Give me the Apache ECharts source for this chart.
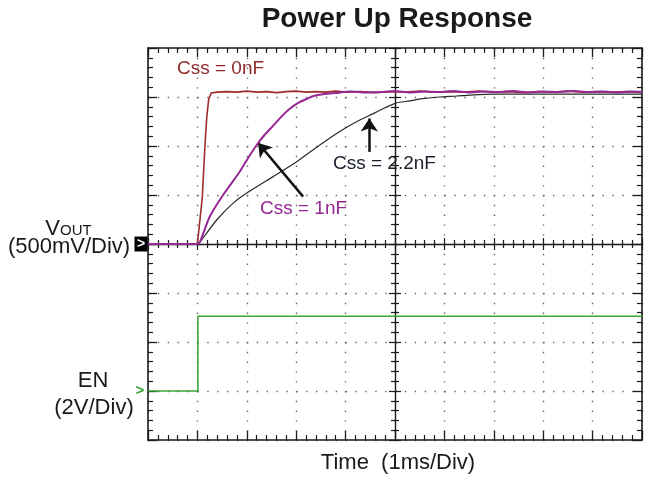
<!DOCTYPE html>
<html><head><meta charset="utf-8">
<script src="https://cdn.jsdelivr.net/npm/echarts@6/dist/echarts.min.js"></script>
<style>html,body{margin:0;padding:0;background:#fff}#c{width:646px;height:482px}</style>
</head><body><div id="c"></div>
<script>
// ---- data (time in ms, voltage in V) ----
const tCss0 = [0, 0.5, 1.0, 1.04, 1.10, 1.15, 1.19, 1.23, 1.28, 1.40, 1.60, 1.80, 2.00, 2.20, 2.40, 2.60, 2.80, 3.00, 3.20, 3.40, 3.60, 3.80, 4.00, 4.30, 4.60, 4.90, 5.20, 5.50, 5.80, 6.10, 6.40, 6.70, 7.00, 7.30, 7.60, 7.90, 8.20, 8.50, 8.80, 9.10, 9.40, 9.70, 10.0];
const vCss0 = [0, 0, 0, 0.01, 0.48, 0.98, 1.30, 1.48, 1.54, 1.55, 1.555, 1.55, 1.56, 1.55, 1.555, 1.545, 1.555, 1.56, 1.55, 1.555, 1.55, 1.56, 1.55, 1.555, 1.545, 1.555, 1.55, 1.56, 1.55, 1.555, 1.55, 1.56, 1.55, 1.555, 1.545, 1.555, 1.55, 1.56, 1.55, 1.555, 1.55, 1.555, 1.55];

const tCss1 = [0, 0.5, 1.0, 1.05, 1.25, 1.52, 1.86, 2.03, 2.20, 2.37, 2.54, 2.70, 2.87, 3.04, 3.21, 3.35, 3.58, 3.80, 4.10, 4.40, 4.70, 5.00, 5.30, 5.60, 5.90, 6.20, 6.50, 6.80, 7.10, 7.40, 7.70, 8.00, 8.30, 8.60, 8.90, 9.20, 9.50, 9.80, 10.0];
const vCss1 = [0, 0, 0, 0.02, 0.28, 0.50, 0.74, 0.88, 1.01, 1.12, 1.21, 1.30, 1.38, 1.44, 1.48, 1.51, 1.53, 1.54, 1.555, 1.545, 1.55, 1.56, 1.545, 1.555, 1.55, 1.56, 1.545, 1.555, 1.55, 1.56, 1.545, 1.555, 1.55, 1.56, 1.55, 1.555, 1.545, 1.555, 1.55];

const tCss22 = [0, 0.5, 1.0, 1.05, 1.39, 1.73, 2.03, 2.54, 3.01, 3.45, 3.89, 4.23, 4.56, 4.80, 5.03, 5.30, 5.51, 5.90, 6.25, 6.52, 7.00, 8.00, 9.00, 10.0];
const vCss22 = [0, 0, 0, 0.02, 0.245, 0.42, 0.53, 0.69, 0.84, 1.00, 1.15, 1.25, 1.33, 1.39, 1.44, 1.46, 1.48, 1.50, 1.51, 1.52, 1.53, 1.53, 1.53, 1.53];

const tEN = [0, 1.01, 1.01, 10.0];
const vEN = [0, 0, 3.05, 3.05];

// arrows [tailTime, tailV, headTime, headV]
const arrow1 = [3.14, 0.483, 2.23, 1.03];
const arrow2 = [4.48, 0.94, 4.48, 1.28];

const titleText = 'Power Up Response';
const xName = 'Time  (1ms/Div)';

// ---- chart ----
const FONT = '"Liberation Sans", Arial, Helvetica, sans-serif';
const zip = (a, b) => a.map((x, i) => [x, b[i]]);
const AX = '#1a1a1a';

function edgeAxis(dim, pos, split) {
  return {
    type: 'value', position: pos,
    min: 0, max: dim === 'x' ? 10 : 8, interval: 1,
    axisLine: { show: true, onZero: false, lineStyle: { color: AX, width: 1.6 } },
    axisTick: { show: true, inside: true, length: 9, lineStyle: { color: AX, width: 1.3 } },
    minorTick: { show: true, splitNumber: 5, length: 5, lineStyle: { color: AX, width: 1.2 } },
    axisLabel: { show: false },
    splitLine: { show: split, lineStyle: { color: '#666', width: 1.4, type: dim === 'x' ? [1.4, 8.4] : [1.4, 8.48] } },
    minorSplitLine: { show: false }
  };
}
function centerAxis(dim, pos, inside, showLine) {
  return {
    type: 'value', position: pos,
    min: dim === 'x' ? -5 : -4, max: dim === 'x' ? 5 : 4, interval: 1,
    axisLine: { show: showLine, onZero: true, onZeroAxisIndex: 2, lineStyle: { color: AX, width: 1.4 } },
    axisTick: { show: true, inside: inside, length: 6, lineStyle: { color: AX, width: 1.2 } },
    minorTick: { show: true, splitNumber: 5, length: 4, lineStyle: { color: AX, width: 1.2 } },
    axisLabel: { show: false },
    splitLine: { show: false }
  };
}

const chart = echarts.init(document.getElementById('c'), null, { renderer: 'canvas' });
const txt = (text, x, y, size, color, align, weight) => ({
  type: 'text', x: x, y: y, silent: true,
  style: { text: text, fill: color, font: (weight || 'normal') + ' ' + size + 'px ' + FONT, textAlign: align || 'center', textVerticalAlign: 'middle' }
});

chart.setOption({
  animation: false,
  backgroundColor: '#fff',
  grid: { left: 148, top: 48, width: 494, height: 392, containLabel: false },
  xAxis: [
    edgeAxis('x', 'bottom', true),
    edgeAxis('x', 'top', false),
    centerAxis('x', 'bottom', true, true),
    centerAxis('x', 'bottom', false, false)
  ],
  yAxis: [
    edgeAxis('y', 'left', true),
    edgeAxis('y', 'right', false),
    centerAxis('y', 'left', true, true),
    centerAxis('y', 'left', false, false),
    { type: 'value', show: false, min: -2, max: 2, axisLine: { onZero: false } },
    { type: 'value', show: false, min: -2, max: 14, axisLine: { onZero: false } }
  ],
  series: [
    {
      name: 'Css = 2.2nF', type: 'line', xAxisIndex: 0, yAxisIndex: 4, z: 3,
      data: zip(tCss22, vCss22), symbol: 'none', smooth: 0.2,
      lineStyle: { color: '#2a2a2a', width: 1.2 },
      markLine: {
        silent: true, animation: false, symbol: ['none', 'arrow'], symbolSize: 13,
        label: { show: false },
        lineStyle: { color: '#111', width: 2.5, type: 'solid' },
        data: [
          [{ coord: [arrow1[0], arrow1[1]] }, { coord: [arrow1[2], arrow1[3]] }],
          [{ coord: [arrow2[0], arrow2[1]] }, { coord: [arrow2[2], arrow2[3]] }]
        ]
      }
    },
    {
      name: 'Css = 0nF', type: 'line', xAxisIndex: 0, yAxisIndex: 4, z: 4,
      data: zip(tCss0, vCss0), symbol: 'none',
      lineStyle: { color: '#9e2b2b', width: 1.6 },
      markPoint: {
        silent: true, animation: false,
        data: [{ coord: [0, 0], symbol: 'rect', symbolSize: [13, 15], symbolOffset: [-7, 0],
          itemStyle: { color: '#000' },
          label: { show: true, position: 'inside', formatter: '>', color: '#fff', fontSize: 14, fontWeight: 'bold', fontFamily: FONT } }]
      }
    },
    {
      name: 'Css = 1nF', type: 'line', xAxisIndex: 0, yAxisIndex: 4, z: 5,
      data: zip(tCss1, vCss1), symbol: 'none', smooth: 0.15,
      lineStyle: { color: '#952894', width: 2 }
    },
    {
      name: 'EN', type: 'line', xAxisIndex: 0, yAxisIndex: 5, z: 4,
      data: zip(tEN, vEN), symbol: 'none',
      lineStyle: { color: '#3aa637', width: 1.6 },
      markPoint: {
        silent: true, animation: false,
        data: [{ coord: [0, 0], symbol: 'rect', symbolSize: [1, 1], itemStyle: { color: 'rgba(0,0,0,0)' },
          label: { show: true, position: 'inside', formatter: '>', color: '#3aa637', fontSize: 15, fontWeight: 'bold', fontFamily: FONT, offset: [-8, 0] } }]
      }
    }
  ],
  graphic: [
    txt(titleText, 397, 19.5, 28, '#1a1a1a', 'center', 'bold'),
    txt(xName, 398, 463, 22, '#1a1a1a'),
    txt('V', 60, 228.5, 22, '#1a1a1a', 'right'),
    txt('OUT', 60, 231, 15, '#1a1a1a', 'left'),
    txt('(500mV/Div)', 69, 246.5, 22, '#1a1a1a'),
    txt('EN', 93, 380.5, 22, '#1a1a1a'),
    txt('(2V/Div)', 94, 407.5, 22, '#1a1a1a'),
    txt('Css = 0nF', 177, 68.3, 19, '#8e2a2a', 'left'),
    txt('Css = 1nF', 260, 208.3, 19, '#952894', 'left'),
    txt('Css = 2.2nF', 333, 163.7, 19, '#1a1f2e', 'left')
  ]
});
</script>
</body></html>
